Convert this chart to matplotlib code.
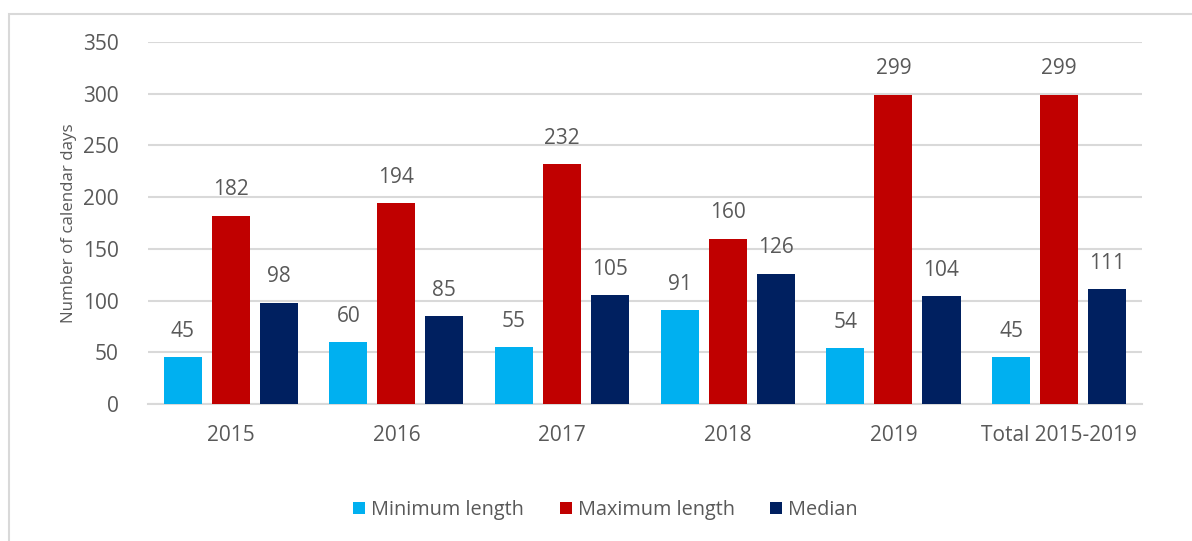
import numpy as np
import matplotlib
matplotlib.use('Agg')
import matplotlib.pyplot as plt
from matplotlib.patches import Rectangle

plt.rcParams['font.family'] = ['Open Sans', 'DejaVu Sans']

# 数据
categories = ['2015', '2016', '2017', '2018', '2019', 'Total 2015-2019']
min_length = [45, 60, 55, 91, 54, 45]
max_length = [182, 194, 232, 160, 299, 299]
median = [98, 85, 105, 126, 104, 111]
series_names = ['Minimum length', 'Maximum length', 'Median']
colors = ['#00B0F0', '#C00000', '#002060']
text_color = '#595959'

fig = plt.figure(figsize=(11.92, 5.41), dpi=100)
ax = fig.add_axes([0.124, 0.2532, 0.834, 0.6692])

# 外框（只露出左侧和上侧）
fig.patches.append(Rectangle((0.0075, -0.1), 1.2, 1.074, transform=fig.transFigure,
                             fill=False, edgecolor='#D9D9D9', linewidth=1.5))

x = np.arange(len(categories))
width = 0.23
offset = 0.29
for i, (vals, name) in enumerate(zip([min_length, max_length, median], series_names)):
    bars = ax.bar(x + (i - 1) * offset, vals, width, color=colors[i], label=name, zorder=3)
    ax.bar_label(bars, padding=11, fontsize=15, color=text_color)

ax.set_xlim(-0.5, len(categories) - 0.5)
ax.set_ylim(0, 350)
ax.set_yticks(range(0, 351, 50))
ax.set_xticks(x)
ax.set_xticklabels(categories)
ax.tick_params(axis='both', length=0, labelsize=15, labelcolor=text_color)
ax.tick_params(axis='x', pad=15)
ax.tick_params(axis='y', pad=21)
ax.grid(axis='y', color='#D9D9D9', linewidth=1.5, zorder=0)
for side in ['top', 'right', 'left']:
    ax.spines[side].set_visible(False)
ax.spines['bottom'].set_color('#D9D9D9')
ax.spines['bottom'].set_linewidth(1.5)

ax.set_ylabel('Number of calendar days', fontsize=12.2, color=text_color, labelpad=4)

fig.legend(loc='center', bbox_to_anchor=(0.508, 0.057), ncol=3, frameon=False,
           fontsize=14.3, labelcolor=text_color, handlelength=0.6, handleheight=0.6,
           handletextpad=0.3, columnspacing=1.8)

plt.savefig('out.png', dpi=100)
